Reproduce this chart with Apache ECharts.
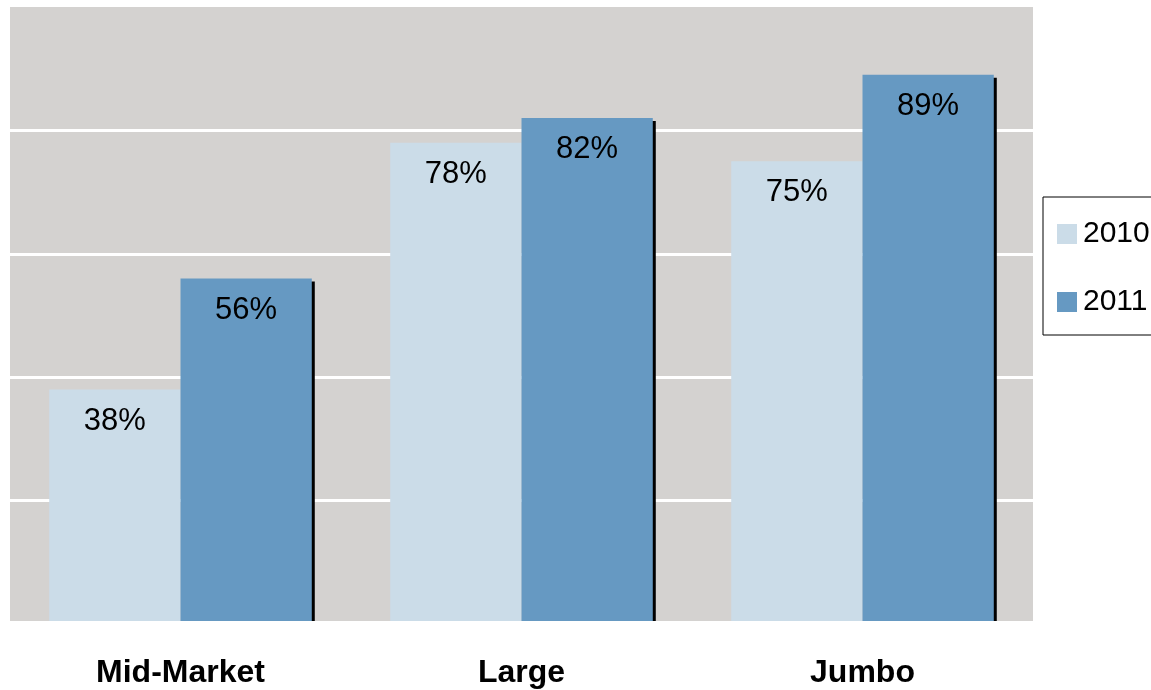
<!DOCTYPE html>
<html><head><meta charset="utf-8">
<script src="https://cdn.jsdelivr.net/npm/echarts@6/dist/echarts.min.js"></script>
<style>html,body{margin:0;padding:0;background:#fff;}#c{width:1151px;height:690px;}</style>
</head><body><div id="c"></div>
<script>
const categories = ['Mid-Market', 'Large', 'Jumbo'];
const series2010 = [38, 78, 75];
const series2011 = [56, 82, 89];
const seriesNames = ['2010', '2011'];

const chart = echarts.init(document.getElementById('c'));
const labelStyle = {show: true, position: 'insideTop', distance: 16, color: '#000', fontSize: 31,
  fontFamily: 'Liberation Sans, Arial, sans-serif', formatter: p => p.value + '%'};
chart.setOption({
  animation: false,
  grid: {left: 10, top: 7, width: 1023, height: 617, show: true, backgroundColor: '#D4D2D0', borderWidth: 0},
  legend: {
    orient: 'vertical', left: 1043, top: 197, width: 140,
    backgroundColor: '#fff', borderColor: '#000', borderWidth: 1,
    padding: [22, 40, 18, 14], itemGap: 38, itemWidth: 20, itemHeight: 20,
    icon: 'rect',
    textStyle: {fontSize: 30, color: '#000', fontFamily: 'Liberation Sans, Arial, sans-serif', padding: [0, 0, 0, 1]},
    data: seriesNames
  },
  xAxis: {
    type: 'category', data: categories, offset: 4, z: 5,
    axisLine: {show: true, lineStyle: {color: '#fff', width: 7}}, axisTick: {show: false},
    axisLabel: {margin: 29, fontSize: 32, fontWeight: 'bold', color: '#000', fontFamily: 'Liberation Sans, Arial, sans-serif'}
  },
  yAxis: {
    type: 'value', min: 0, max: 100, interval: 20,
    axisLine: {show: false}, axisTick: {show: false}, axisLabel: {show: false},
    splitLine: {show: true, showMinLine: false, showMaxLine: false, lineStyle: {color: '#fff', width: 3}}
  },
  series: [
    {name: seriesNames[0], type: 'bar', data: series2010, barGap: '0%', barCategoryGap: '23%',
     itemStyle: {color: '#CBDCE8'}, label: labelStyle},
    {name: seriesNames[1], type: 'bar', data: series2011, barGap: '0%', barCategoryGap: '23%',
     itemStyle: {color: '#6699C2', shadowColor: '#000', shadowBlur: 0, shadowOffsetX: 3, shadowOffsetY: 3},
     label: labelStyle}
  ]
});
</script></body></html>
